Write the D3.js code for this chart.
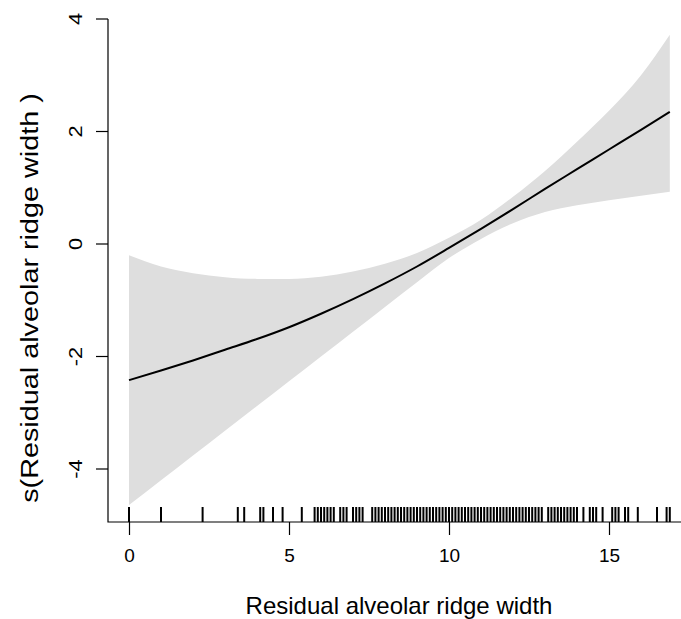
<!DOCTYPE html>
<html>
<head>
<meta charset="utf-8">
<script src="https://cdn.jsdelivr.net/npm/d3@7"></script>
<style>
  html, body { margin: 0; padding: 0; background: #fff; }
  svg { display: block; }
  text { font-family: "Liberation Sans", Arial, sans-serif; fill: #000; }
</style>
</head>
<body>
<svg id="chart" width="681" height="619"></svg>
<script>
// Smooth term: grid of covariate values, fitted effect and confidence band
const gridX  = [0, 1, 2, 3, 4, 5, 6, 7, 8, 9, 10, 11, 12, 13, 14, 15, 16, 16.9];
const fitY   = [-2.42, -2.25, -2.07, -1.88, -1.69, -1.48, -1.24, -0.98, -0.70, -0.40, -0.07, 0.27, 0.62, 0.98, 1.33, 1.68, 2.03, 2.35];
const upperY = [-0.20, -0.40, -0.52, -0.59, -0.62, -0.62, -0.58, -0.49, -0.35, -0.16, 0.11, 0.43, 0.84, 1.30, 1.82, 2.37, 3.00, 3.72];
const lowerY = [-4.64, -4.20, -3.76, -3.32, -2.88, -2.44, -2.00, -1.56, -1.12, -0.68, -0.25, 0.09, 0.37, 0.57, 0.69, 0.78, 0.86, 0.93];

// Observed covariate values shown as a rug
const rugX = [
  0.0, 1.0, 2.3, 3.4, 3.6, 4.1, 4.2, 4.5, 4.8, 5.4, 5.8, 5.9,
  6.0, 6.1, 6.2, 6.3, 6.4, 6.6, 6.7, 6.8, 7.0, 7.1, 7.2, 7.3,
  7.6, 7.7, 7.8, 7.9, 8.0, 8.1, 8.2, 8.3, 8.4, 8.5, 8.6, 8.7, 8.8, 8.9,
  9.0, 9.1, 9.2, 9.3, 9.4, 9.5, 9.6, 9.7, 9.8, 9.9,
  10.0, 10.1, 10.2, 10.3, 10.4, 10.5, 10.6, 10.7, 10.8, 10.9,
  11.0, 11.1, 11.2, 11.3, 11.4, 11.5, 11.6, 11.7, 11.8, 11.9,
  12.0, 12.1, 12.2, 12.3, 12.4, 12.5, 12.6, 12.7, 12.8, 12.9,
  13.1, 13.2, 13.3, 13.4, 13.5, 13.6, 13.7, 13.8, 13.9, 14.0,
  14.2, 14.4, 14.5, 14.6, 14.8, 15.1, 15.2, 15.3, 15.5, 15.6, 15.9,
  16.5, 16.8, 16.9
];

const xTicks = [0, 5, 10, 15];
const yTicks = [-4, -2, 0, 2, 4];
const xTitle = "Residual alveolar ridge width";
const yTitle = "s(Residual alveolar ridge width )";

const svg = d3.select("#chart");

// Plot region
const frameLeft = 108, frameBottom = 522, frameTop = 19, frameRight = 681;
const x = d3.scaleLinear().domain([0, 17]).range([129, 673]);
const y = d3.scaleLinear().domain([-4, 4]).range([469, 19]);

const pts = gridX.map((v, i) => ({ x: v, fit: fitY[i], lo: lowerY[i], hi: upperY[i] }));

// Confidence band
svg.append("path")
  .datum(pts)
  .attr("fill", "#dedede")
  .attr("stroke", "none")
  .attr("d", d3.area()
    .x(d => x(d.x))
    .y0(d => y(d.lo))
    .y1(d => y(d.hi))
    .curve(d3.curveMonotoneX));

// Fitted smooth
svg.append("path")
  .datum(pts)
  .attr("fill", "none")
  .attr("stroke", "#000")
  .attr("stroke-width", 2)
  .attr("d", d3.line()
    .x(d => x(d.x))
    .y(d => y(d.fit))
    .curve(d3.curveMonotoneX));

// Rug
svg.append("g")
  .selectAll("line")
  .data(rugX)
  .join("line")
  .attr("x1", d => x(d)).attr("x2", d => x(d))
  .attr("y1", frameBottom - 15).attr("y2", frameBottom)
  .attr("stroke", "#000")
  .attr("stroke-width", 2);

// L-shaped frame
svg.append("path")
  .attr("d", `M${frameLeft},${frameTop}V${frameBottom}H${frameRight}`)
  .attr("fill", "none")
  .attr("stroke", "#000")
  .attr("stroke-width", 1.2);

// X axis ticks and labels
const xAxis = d3.axisBottom(x).tickValues(xTicks).tickSize(13).tickPadding(14).tickFormat(d3.format("d"));
const gx = svg.append("g").attr("transform", `translate(0,${frameBottom})`).call(xAxis);
gx.select(".domain").remove();
gx.selectAll("line").attr("stroke", "#000").attr("stroke-width", 1.2);
gx.selectAll("text").attr("font-size", 19).attr("font-family", "Liberation Sans, Arial, sans-serif").attr("fill", "#000");

// Y axis ticks and labels (rotated, as in base graphics)
const gy = svg.append("g").attr("transform", `translate(${frameLeft},0)`);
gy.selectAll("line")
  .data(yTicks)
  .join("line")
  .attr("x1", -12).attr("x2", 0)
  .attr("y1", d => y(d)).attr("y2", d => y(d))
  .attr("stroke", "#000")
  .attr("stroke-width", 1.2);
gy.selectAll("text")
  .data(yTicks)
  .join("text")
  .attr("transform", d => `translate(-33,${y(d)}) rotate(-90) scale(1.15,1)`)
  .attr("text-anchor", "middle")
  .attr("dominant-baseline", "central")
  .attr("font-size", 19)
  .text(d => String(d));

// Axis titles
svg.append("text")
  .attr("x", 399).attr("y", 605)
  .attr("text-anchor", "middle")
  .attr("dominant-baseline", "central")
  .attr("font-size", 24)
  .text(xTitle);

svg.append("text")
  .attr("transform", "translate(30,298) rotate(-90) scale(1.2,1)")
  .attr("text-anchor", "middle")
  .attr("dominant-baseline", "central")
  .attr("font-size", 24)
  .text(yTitle);
</script>
</body>
</html>
